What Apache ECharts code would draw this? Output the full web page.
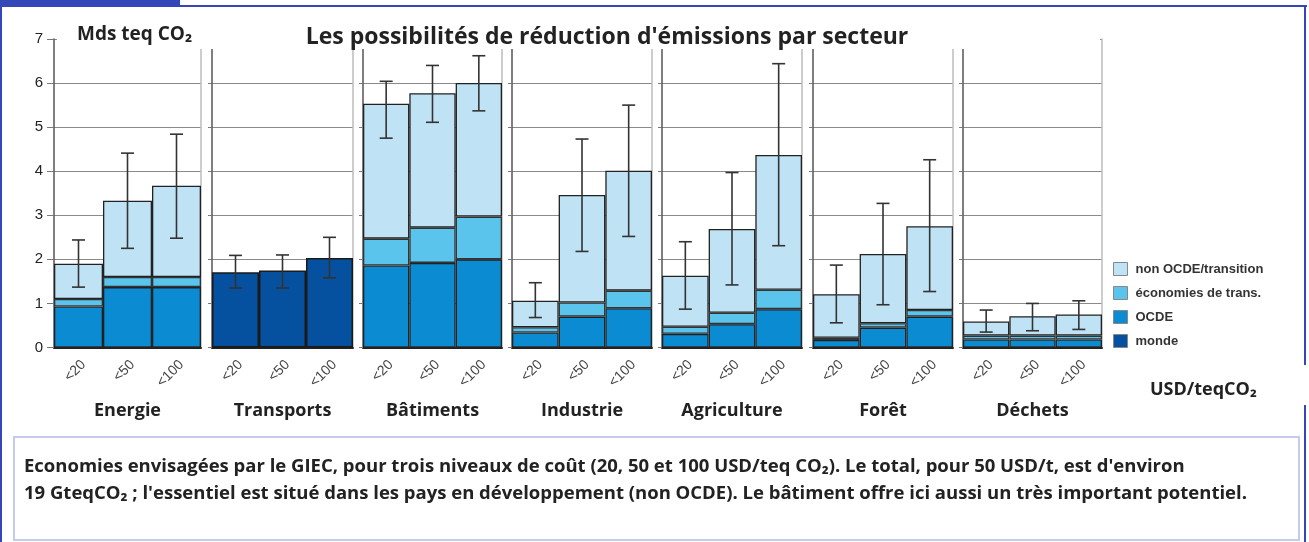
<!DOCTYPE html>
<html>
<head>
<meta charset="utf-8">
<title>Les possibilités de réduction d'émissions par secteur</title>
<script src="https://cdn.jsdelivr.net/npm/echarts@6/dist/echarts.min.js"></script>
<style>
  html, body { margin: 0; padding: 0; background: #fff; }
  #chart { width: 1309px; height: 542px; }
</style>
</head>
<body>
<div id="chart"></div>
<script>
// secteurs et niveaux de coût
const sectors = ["Energie", "Transports", "Bâtiments", "Industrie", "Agriculture", "Forêt", "Déchets"];
const costs = ["<20", "<50", "<100"];

// hauteur totale de chaque barre (Mds teq CO2)
const totals = [
  [1.9, 3.33, 3.67],
  [1.71, 1.75, 2.03],
  [5.53, 5.77, 6.0],
  [1.06, 3.46, 4.01],
  [1.63, 2.69, 4.37],
  [1.21, 2.12, 2.75],
  [0.59, 0.71, 0.75],
];
// haut de la partie OCDE + économies de transition (null = pas de détail, "monde")
const econTop = [
  [1.1, 1.6, 1.6],
  null,
  [2.47, 2.72, 2.97],
  [0.46, 1.02, 1.29],
  [0.47, 0.79, 1.31],
  [0.22, 0.55, 0.85],
  [0.27, 0.27, 0.27],
];
// haut de la partie OCDE
const ocde = [
  [0.93, 1.37, 1.37],
  null,
  [1.86, 1.92, 2.0],
  [0.34, 0.7, 0.89],
  [0.31, 0.53, 0.87],
  [0.17, 0.45, 0.7],
  [0.18, 0.18, 0.18],
];
// barres d'erreur (bas / haut)
const errLow = [
  [1.37, 2.25, 2.48],
  [1.35, 1.35, 1.58],
  [4.75, 5.11, 5.37],
  [0.68, 2.18, 2.52],
  [0.87, 1.42, 2.31],
  [0.56, 0.97, 1.27],
  [0.35, 0.38, 0.41],
];
const errHigh = [
  [2.44, 4.41, 4.84],
  [2.09, 2.1, 2.5],
  [6.04, 6.4, 6.62],
  [1.47, 4.73, 5.5],
  [2.4, 3.97, 6.44],
  [1.87, 3.27, 4.26],
  [0.85, 1.0, 1.06],
];

const colors = {
  "non OCDE/transition": "#bfe3f5",
  "économies de trans.": "#5ac4ec",
  "OCDE": "#0a8bd2",
  "monde": "#0650a0",
};

// position des panneaux (px)
const panelLeft = [54, 212, 363, 512, 662, 813, 963];
const panelWidth = [147, 141, 139, 140, 140, 140, 139];

const round = (v) => Math.round(v * 100) / 100;
const titleFont = "Open Sans";

const grids = [], xAxes = [], yAxes = [], series = [];

sectors.forEach((name, i) => {
  grids.push({ left: panelLeft[i], width: panelWidth[i], top: 39, height: 308.5 });

  xAxes.push({
    type: "category",
    gridIndex: i,
    data: costs,
    name: name,
    nameLocation: "middle",
    nameGap: 54,
    nameTextStyle: { fontFamily: titleFont, fontWeight: "bold", fontSize: 18, color: "#222" },
    axisLine: { lineStyle: { color: "#222", width: 2 } },
    axisTick: { length: 5, lineStyle: { color: "#555" } },
    axisLabel: {
      rotate: 45, fontFamily: "Arial", fontSize: 14, color: "#444",
      margin: 10, verticalAlign: "top",
    },
  });

  // axe gauche (graduations), axe droit (trait gris)
  yAxes.push({
    type: "value",
    gridIndex: i,
    min: 0,
    max: 7,
    interval: 1,
    axisLine: { show: true, lineStyle: { color: "#555", width: 1.5 } },
    axisTick: { show: true, length: i === 0 ? 7 : 4, lineStyle: { color: "#777" } },
    axisLabel: { show: i === 0, fontFamily: "Arial", fontSize: 15, color: "#222", margin: 11 },
    splitLine: { lineStyle: { color: "#8a8a8a", width: 1 } },
  });
  yAxes.push({
    type: "value",
    gridIndex: i,
    position: "right",
    min: 0,
    max: 7,
    interval: 1,
    axisLine: { show: true, lineStyle: { color: "#bdbdbd", width: 1.5 } },
    axisTick: { show: false },
    axisLabel: { show: false },
    splitLine: { show: false },
  });

  const barBase = {
    type: "bar",
    xAxisIndex: i,
    yAxisIndex: i * 2,
    stack: "s" + i,
    barCategoryGap: "0%",
  };

  if (econTop[i] === null) {
    series.push(Object.assign({}, barBase, {
      name: "monde",
      data: totals[i],
      itemStyle: { color: colors["monde"], borderColor: "#1a1a1a", borderWidth: 1.5 },
    }));
  } else {
    series.push(Object.assign({}, barBase, {
      name: "OCDE",
      data: ocde[i],
      itemStyle: { color: colors["OCDE"], borderColor: "#222", borderWidth: 1.3 },
    }));
    series.push(Object.assign({}, barBase, {
      name: "économies de trans.",
      data: econTop[i].map((v, k) => round(v - ocde[i][k])),
      itemStyle: { color: colors["économies de trans."], borderColor: "#333", borderWidth: 1.3 },
    }));
    series.push(Object.assign({}, barBase, {
      name: "non OCDE/transition",
      data: totals[i].map((v, k) => round(v - econTop[i][k])),
      itemStyle: { color: colors["non OCDE/transition"], borderColor: "#222", borderWidth: 1.3 },
    }));
  }

  // barres d'erreur
  series.push({
    type: "custom",
    xAxisIndex: i,
    yAxisIndex: i * 2,
    z: 5,
    silent: true,
    data: costs.map((c, k) => [k, errLow[i][k], errHigh[i][k]]),
    encode: { x: 0, y: [1, 2] },
    renderItem: function (params, api) {
      const lo = api.coord([api.value(0), api.value(1)]);
      const hi = api.coord([api.value(0), api.value(2)]);
      const half = 6.5;
      const style = { stroke: "#333", lineWidth: 1.6 };
      return {
        type: "group",
        children: [
          { type: "line", shape: { x1: lo[0], y1: lo[1], x2: hi[0], y2: hi[1] }, style: style },
          { type: "line", shape: { x1: lo[0] - half, y1: lo[1], x2: lo[0] + half, y2: lo[1] }, style: style },
          { type: "line", shape: { x1: hi[0] - half, y1: hi[1], x2: hi[0] + half, y2: hi[1] }, style: style },
        ],
      };
    },
  });
});

const blue = "#3447b8";

const option = {
  animation: false,
  title: [
    {
      text: "Les possibilités de réduction d'émissions par secteur",
      left: 602,
      top: 21,
      textAlign: "center",
      z: 30,
      textStyle: { fontFamily: titleFont, fontWeight: "bold", fontSize: 23, color: "#222" },
    },
  ],
  legend: {
    orient: "vertical",
    left: 1113,
    top: 262,
    itemWidth: 14,
    itemHeight: 13,
    itemGap: 10,
    padding: 0,
    selectedMode: false,
    icon: "rect",
    data: ["non OCDE/transition", "économies de trans.", "OCDE", "monde"],
    itemStyle: { borderColor: "#888", borderWidth: 1 },
    textStyle: { fontFamily: "Arial", fontWeight: "bold", fontSize: 13, color: "#333", padding: [0, 0, 0, 3] },
  },
  grid: grids,
  xAxis: xAxes,
  yAxis: yAxes,
  series: series,
  graphic: [
    // cache le haut des panneaux sous le titre
    { type: "rect", z: 20, shape: { x: 57, y: 18, width: 1043, height: 31 }, style: { fill: "#fff" } },
    { type: "text", z: 30, left: 77, top: 25, style: { text: "Mds teq CO₂", font: "bold 19px 'Open Sans'", fill: "#222" } },
    { type: "text", z: 30, left: 1150, top: 381, style: { text: "USD/teqCO₂", font: "bold 18px 'Open Sans'", fill: "#222" } },
    // cadre bleu
    { type: "rect", z: 20, shape: { x: 0, y: 0, width: 180, height: 7 }, style: { fill: blue } },
    { type: "rect", z: 20, shape: { x: 180, y: 5, width: 1127, height: 2 }, style: { fill: blue } },
    { type: "rect", z: 20, shape: { x: 0, y: 0, width: 2, height: 542 }, style: { fill: blue } },
    { type: "rect", z: 20, shape: { x: 1304, y: 5, width: 2, height: 360 }, style: { fill: blue } },
    { type: "rect", z: 20, shape: { x: 1304, y: 405, width: 2, height: 137 }, style: { fill: blue } },
    // légende du graphique
    {
      type: "rect", z: 20,
      shape: { x: 14, y: 437, width: 1285, height: 103 },
      style: { fill: "#fff", stroke: "#c5cbee", lineWidth: 2 },
    },
    {
      type: "text", z: 30, left: 24, top: 457,
      style: {
        text: "Economies envisagées par le GIEC, pour trois niveaux de coût (20, 50 et 100 USD/teq CO₂). Le total, pour 50 USD/t, est d'environ",
        font: "bold 18.5px 'Open Sans'", fill: "#222",
      },
    },
    {
      type: "text", z: 30, left: 24, top: 484,
      style: {
        text: "19 GteqCO₂ ; l'essentiel est situé dans les pays en développement (non OCDE). Le bâtiment offre ici aussi un très important potentiel.",
        font: "bold 18.5px 'Open Sans'", fill: "#222",
      },
    },
  ],
};

const chart = echarts.init(document.getElementById("chart"));
chart.setOption(option);
</script>
</body>
</html>
